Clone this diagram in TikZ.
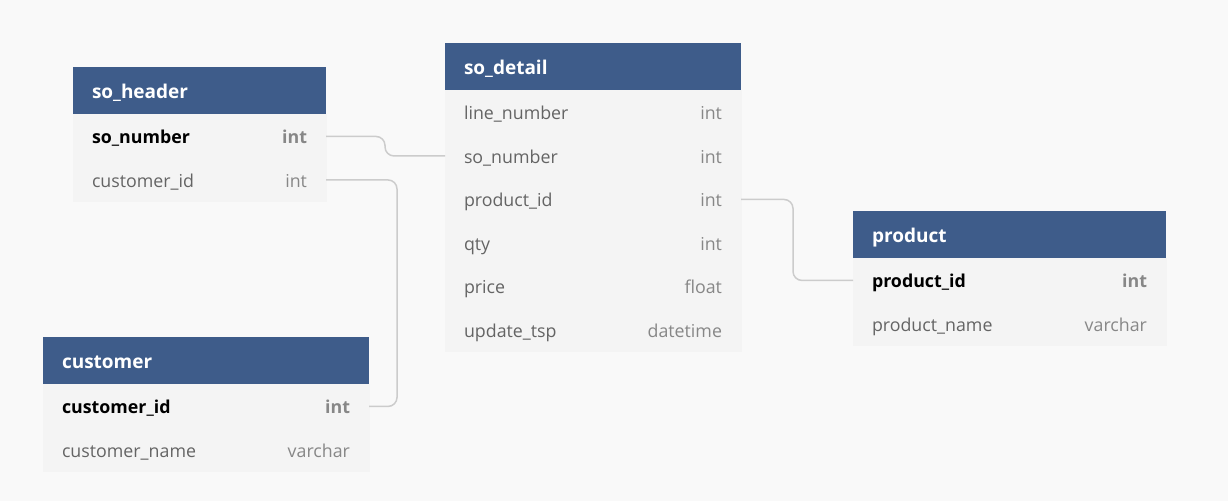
\documentclass[tikz,border=0pt]{standalone}
\usepackage{fontspec}
\setmainfont{Open Sans}
\usetikzlibrary{positioning}
\definecolor{bggray}{RGB}{249,249,249}
\definecolor{rowgray}{RGB}{244,244,244}
\definecolor{hdblue}{RGB}{62,92,138}
\definecolor{namegray}{RGB}{100,100,100}
\definecolor{typegray}{RGB}{135,135,135}
\definecolor{linkgray}{RGB}{204,204,204}
\newcommand\ty[1]{\hfill{\color{typegray}#1}}
\begin{document}
\begin{tikzpicture}[x=0.5pt,y=-0.5pt]
  \tikzset{ hd/.style={rectangle,fill=hdblue,text=white,anchor=north west,inner xsep=9.5pt,inner ysep=0pt,outer sep=0pt,
      minimum height=23.85pt,text height=8.5pt,text depth=0.5pt,align=left,font=\fontsize{9.5}{11}\selectfont\bfseries},
    rw/.style={rectangle,fill=rowgray,draw=rowgray,line width=0.4pt,text=namegray,inner xsep=9.5pt,inner ysep=0pt,outer sep=0pt,
      minimum height=21.75pt,text height=8.2pt,text depth=0.7pt,align=left,font=\fontsize{8.9}{10}\selectfont},
    pk/.style={rw,text=black,font=\fontsize{8.9}{10}\selectfont\bfseries},
    link/.style={linkgray,line width=0.75pt,rounded corners=4.5pt},
  }
  \useasboundingbox[fill=bggray] (0,0) rectangle (1228,501);

  % so_header
  \begin{scope}[every node/.append style={text width=107.5pt}]
    \node[hd] (H) at (73,67) {so\_header};
    \node[pk,below=0pt of H] (H1) {so\_number\ty{int}};
    \node[rw,below=0pt of H1] (H2) {customer\_id\ty{int}};
  \end{scope}

  % so_detail
  \begin{scope}[every node/.append style={text width=129pt}]
    \node[hd] (D) at (445,43) {so\_detail};
    \node[rw,below=0pt of D] (D1) {line\_number\ty{int}};
    \node[rw,below=0pt of D1] (D2) {so\_number\ty{int}};
    \node[rw,below=0pt of D2] (D3) {product\_id\ty{int}};
    \node[rw,below=0pt of D3] (D4) {qty\ty{int}};
    \node[rw,below=0pt of D4] (D5) {price\ty{float}};
    \node[rw,below=0pt of D5] (D6) {update\_tsp\ty{datetime}};
  \end{scope}

  % product
  \begin{scope}[every node/.append style={text width=137.5pt}]
    \node[hd] (P) at (853,211) {product};
    \node[pk,below=0pt of P] (P1) {product\_id\ty{int}};
    \node[rw,below=0pt of P1] (P2) {product\_name\ty{varchar}};
  \end{scope}

  % customer
  \begin{scope}[every node/.append style={text width=144pt}]
    \node[hd] (C) at (43,337) {customer};
    \node[pk,below=0pt of C] (C1) {customer\_id\ty{int}};
    \node[rw,below=0pt of C1] (C2) {customer\_name\ty{varchar}};
  \end{scope}

  % the references between the tables
  \draw[link] (H1.east) -- ++(59,0) |- (D2.west);
  \draw[link] (H2.east) -- ++(71,0) |- (C1.east);
  \draw[link] (D3.east) -- ++(52,0) |- (P1.west);
\end{tikzpicture}
\end{document}
